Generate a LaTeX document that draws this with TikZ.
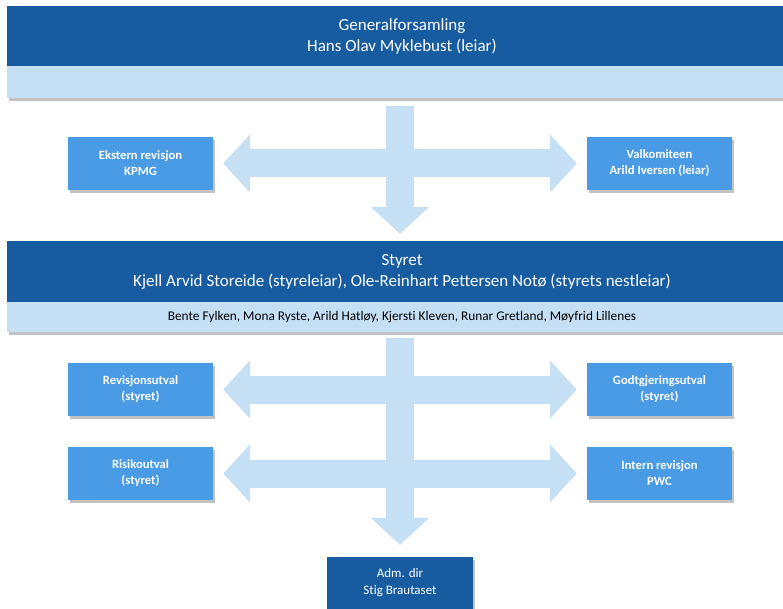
\documentclass[tikz,border=0pt]{standalone}
\usepackage{fontspec}
\setmainfont{Carlito}[Ligatures={NoCommon}]
\usetikzlibrary{arrows.meta}
\usetikzlibrary{shadows}

\definecolor{darkblue}{RGB}{23,92,160}
\definecolor{midblue}{RGB}{74,155,230}
\definecolor{paleblue}{RGB}{197,223,245}

\tikzset{
  boxshadow/.style={drop shadow={shadow xshift=2pt,shadow yshift=-3pt,opacity=.4,fill=black!60}},
  headbar/.style={fill=darkblue,text=white,minimum width=790pt,align=center,inner sep=0pt,font=\fontsize{17}{21}\selectfont,boxshadow},
  memberbar/.style={fill=paleblue,text=black,minimum width=790pt,align=center,inner sep=0pt,font=\fontsize{13.3}{15}\selectfont,boxshadow},
  unitbox/.style={fill=midblue,text=white,minimum width=145pt,minimum height=53pt,align=center,inner sep=0pt,font=\bfseries\fontsize{12.6}{16}\selectfont,boxshadow},
  topbox/.style={fill=darkblue,text=white,minimum width=146pt,minimum height=52pt,align=center,inner sep=0pt,font=\fontsize{13}{17}\selectfont,boxshadow},
  blockarrow/.style={draw=paleblue,line width=28pt},
  bigtip/.tip={Triangle[length=27pt,width=57pt]}
}

\begin{document}
\begin{tikzpicture}[x=1pt,y=-1pt]
\useasboundingbox (0,0) rectangle (783,609);

% generalforsamling
\node[headbar,minimum height=60pt] (gm) at (402,36) {Generalforsamling\\Hans Olav Myklebust (leiar)};
\node[memberbar,minimum height=32pt] (gmband) at (402,82) {};

% styret
\node[headbar,minimum height=61pt] (styret) at (402,271.5) {Styret\\Kjell Arvid Storeide (styreleiar), Ole-Reinhart Pettersen Notø (styrets nestleiar)};
\node[memberbar,minimum height=30pt] (members) at (402,317) {Bente Fylken, Mona Ryste, Arild Hatløy, Kjersti Kleven, Runar Gretland, Møyfrid Lillenes};

% utval og revisjon
\node[unitbox] (ekstern) at (140.5,163.5) {Ekstern revisjon\\KPMG};
\node[unitbox] (valkom) at (659.5,163.5) {Valkomiteen\\Arild Iversen (leiar)};
\node[unitbox] (revutval) at (140.5,389.5) {Revisjonsutval\\(styret)};
\node[unitbox] (godtutval) at (659.5,389.5) {Godtgjeringsutval\\(styret)};
\node[unitbox] (risiko) at (140.5,473.5) {Risikoutval\\(styret)};
\node[unitbox] (intern) at (659.5,473.5) {Intern revisjon\\PWC};

\node[topbox] (adm) at (400,583) {Adm. dir\\Stig Brautaset};

% piler
\draw[blockarrow,bigtip-bigtip,shorten <=10pt,shorten >=10pt] (ekstern) -- (valkom);
\draw[blockarrow,bigtip-bigtip,shorten <=10pt,shorten >=10pt] (revutval) -- (godtutval);
\draw[blockarrow,bigtip-bigtip,shorten <=10pt,shorten >=10pt] (risiko) -- (intern);
\draw[blockarrow,-bigtip,shorten <=8pt,shorten >=7pt] (gmband.south -| adm) -- (styret.north -| adm);
\draw[blockarrow,-bigtip,shorten <=6pt,shorten >=12pt] (members.south -| adm) -- (adm);

\end{tikzpicture}
\end{document}
